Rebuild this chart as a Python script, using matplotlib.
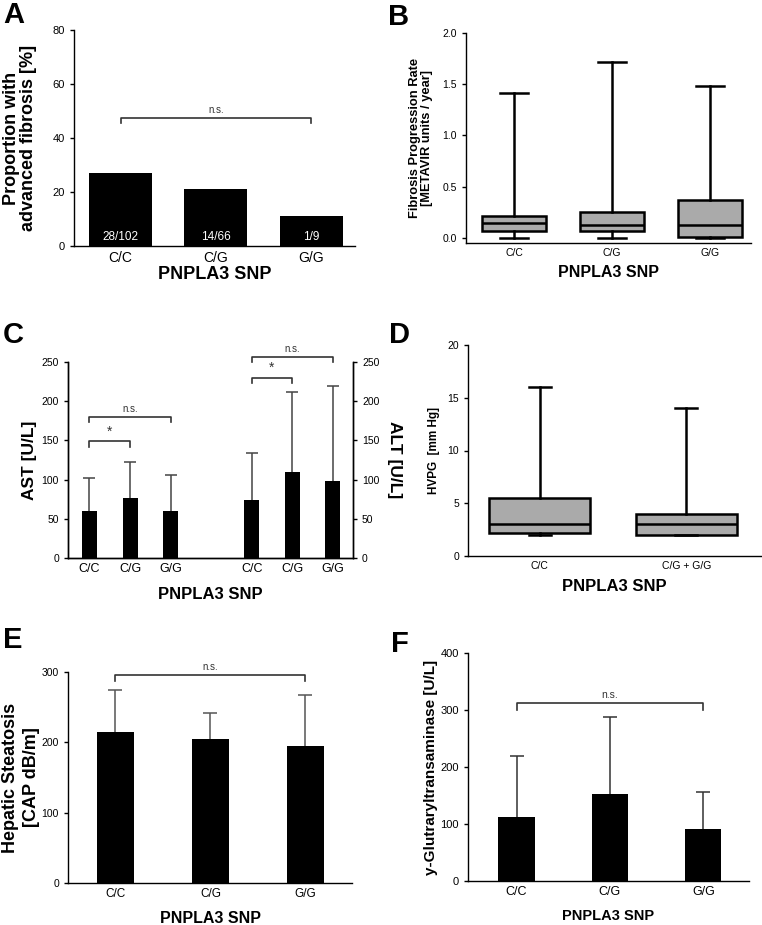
import numpy as np
import matplotlib
matplotlib.use("Agg")
import matplotlib.pyplot as plt

plt.rcParams['font.family'] = ['Liberation Sans', 'DejaVu Sans']
plt.rcParams['axes.linewidth'] = 1.0
plt.rcParams['xtick.major.width'] = 1.0
plt.rcParams['ytick.major.width'] = 1.0
plt.rcParams['xtick.major.size'] = 3
plt.rcParams['ytick.major.size'] = 3

# ---- data ----
genotypes = ['C/C', 'C/G', 'G/G']

# A: proportion with advanced fibrosis
fib_pct = [27, 21, 11]
fib_counts = ['28/102', '14/66', '1/9']

# B: fibrosis progression rate (min, q1, median, q3, max)
fpr_min = [0.0, 0.0, 0.0]
fpr_q1 = [0.07, 0.07, 0.01]
fpr_med = [0.15, 0.13, 0.13]
fpr_q3 = [0.21, 0.25, 0.37]
fpr_max = [1.41, 1.72, 1.48]

# C: AST / ALT mean + SD
ast_mean = [60, 76, 60]
ast_sd = [42, 47, 46]
alt_mean = [74, 110, 98]
alt_sd = [60, 102, 121]

# D: HVPG
hvpg_groups = ['C/C', 'C/G + G/G']
hvpg_min = [2.0, 2.0]
hvpg_q1 = [2.2, 2.0]
hvpg_med = [3.0, 3.0]
hvpg_q3 = [5.5, 4.0]
hvpg_max = [16.0, 14.0]

# E: CAP
cap_mean = [215, 205, 195]
cap_sd = [60, 37, 72]

# F: GGT
ggt_mean = [113, 153, 91]
ggt_sd = [107, 135, 66]

W, H = 762, 925
fig = plt.figure(figsize=(W / 100, H / 100), dpi=100)


def px_axes(l, t, r, b):
    return fig.add_axes([l / W, 1 - b / H, (r - l) / W, (b - t) / H])


def style(ax):
    ax.spines['top'].set_visible(False)
    ax.spines['right'].set_visible(False)


def up_err(ax, x, mean, sd, color, cap):
    # SD shown upward only: hide the lower cap
    eb = ax.errorbar(x, mean, yerr=[np.zeros(len(sd)), sd], fmt='none', ecolor=color,
                     elinewidth=1.1, capsize=cap, capthick=1.1, zorder=1)
    eb[1][0].set_visible(False)


def bracket(ax, x1, x2, y, drop, text, fs=7, clip=True):
    ax.plot([x1, x1, x2, x2], [y - drop, y, y, y - drop], color='#333333', lw=1.2,
            clip_on=clip)
    ax.text((x1 + x2) / 2, y + drop * 0.5, text, ha='center', va='bottom', fontsize=fs,
            color='#333333', clip_on=False)


def letter(x, y, s):
    fig.text(x / W, 1 - y / H, s, fontsize=21, fontweight='bold', va='top', ha='left')


# ======== A ========
axA = px_axes(74, 30, 355, 246)
style(axA)
xa = np.arange(3)
axA.bar(xa, fib_pct, width=0.66, color='black')
for i, c in enumerate(fib_counts):
    axA.text(xa[i], 1.2, c, color='white', ha='center', va='bottom', fontsize=8.5)
axA.set_xlim(-0.49, 2.46)
axA.set_ylim(0, 80)
axA.set_yticks([0, 20, 40, 60, 80])
axA.set_xticks(xa)
axA.set_xticklabels(genotypes, fontsize=10)
axA.tick_params(axis='y', labelsize=8)
axA.tick_params(axis='x', length=0)
bracket(axA, 0, 2, 47.5, 2, 'n.s.', fs=7)
axA.set_ylabel('Proportion with\nadvanced fibrosis [%]', fontsize=13, fontweight='bold',
               labelpad=11, linespacing=1.0)
axA.set_xlabel('PNPLA3 SNP', fontsize=13, fontweight='bold', labelpad=1)

# ======== B ========
axB = px_axes(466, 33, 751, 243)
style(axB)
statsB = []
for i in range(3):
    statsB.append(dict(whislo=fpr_min[i], q1=fpr_q1[i], med=fpr_med[i], q3=fpr_q3[i],
                       whishi=fpr_max[i], fliers=[]))
axB.bxp(statsB, positions=np.arange(3), widths=0.66, patch_artist=True, showfliers=False,
        capwidths=0.29,
        boxprops=dict(facecolor='#aaaaaa', edgecolor='black', linewidth=1.8),
        medianprops=dict(color='black', linewidth=1.8),
        whiskerprops=dict(color='black', linewidth=1.8),
        capprops=dict(color='black', linewidth=1.8))
axB.set_xlim(-0.49, 2.42)
axB.set_ylim(-0.05, 2.0)
axB.set_yticks([0.0, 0.5, 1.0, 1.5, 2.0])
axB.set_yticklabels(['0.0', '0.5', '1.0', '1.5', '2.0'])
axB.set_xticks(np.arange(3))
axB.set_xticklabels(genotypes)
axB.tick_params(labelsize=7.5)
axB.tick_params(axis='x', length=0)
axB.set_ylabel('Fibrosis Progression Rate\n[METAVIR units / year]', fontsize=9.3,
               fontweight='bold', labelpad=7, linespacing=1.0)
axB.set_xlabel('PNPLA3 SNP', fontsize=11.5, fontweight='bold', labelpad=5)

# ======== C ========
axC = px_axes(68, 362, 353, 558)
axC.spines['top'].set_visible(False)
pos_ast = np.array([0, 1, 2])
pos_alt = np.array([4, 5, 6])
axC.bar(pos_ast, ast_mean, width=0.37, color='black', zorder=2)
up_err(axC, pos_ast, ast_mean, ast_sd, '#444444', 4)
axC.bar(pos_alt, alt_mean, width=0.37, color='black', zorder=2)
up_err(axC, pos_alt, alt_mean, alt_sd, '#444444', 4)
axC.set_xlim(-0.53, 6.5)
axC.set_ylim(0, 250)
axC.set_yticks([0, 50, 100, 150, 200, 250])
axC.set_xticks([0, 1, 2, 3, 4, 5, 6])
axC.set_xticklabels(genotypes + [''] + genotypes, fontsize=9)
axC.tick_params(axis='y', labelsize=7.5, right=False)
axC.tick_params(axis='x', length=0)
axC.set_ylabel('AST [U/L]', fontsize=12.5, fontweight='bold', labelpad=3)
axC.set_xlabel('PNPLA3 SNP', fontsize=12, fontweight='bold', labelpad=9)
bracket(axC, 0, 1, 149, 7, '*', fs=10)
bracket(axC, 0, 2, 180, 7, 'n.s.', fs=7)
bracket(axC, 4, 5, 230, 7, '*', fs=10, clip=False)
bracket(axC, 4, 6, 257, 7, 'n.s.', fs=7, clip=False)
axC2 = axC.twinx()
axC2.spines['top'].set_visible(False)
axC2.set_ylim(0, 250)
axC2.set_yticks([0, 50, 100, 150, 200, 250])
axC2.tick_params(axis='y', labelsize=7.5)
axC2.set_ylabel('ALT [U/L]', fontsize=12.5, fontweight='bold', rotation=270, labelpad=16)

# ======== D ========
axD = px_axes(468, 345, 761, 556)
style(axD)
statsD = []
for i in range(2):
    statsD.append(dict(whislo=hvpg_min[i], q1=hvpg_q1[i], med=hvpg_med[i], q3=hvpg_q3[i],
                       whishi=hvpg_max[i], fliers=[]))
axD.bxp(statsD, positions=np.arange(2), widths=0.69, patch_artist=True, showfliers=False,
        capwidths=0.15,
        boxprops=dict(facecolor='#aaaaaa', edgecolor='black', linewidth=1.8),
        medianprops=dict(color='black', linewidth=1.8),
        whiskerprops=dict(color='black', linewidth=1.8),
        capprops=dict(color='black', linewidth=1.8))
axD.set_xlim(-0.49, 1.51)
axD.set_ylim(0, 20)
axD.set_yticks([0, 5, 10, 15, 20])
axD.set_xticks(np.arange(2))
axD.set_xticklabels(hvpg_groups)
axD.tick_params(labelsize=7.5)
axD.tick_params(axis='x', length=0)
axD.set_ylabel('HVPG  [mm Hg]', fontsize=8.5, fontweight='bold', labelpad=5)
axD.set_xlabel('PNPLA3 SNP', fontsize=12, fontweight='bold', labelpad=6)

# ======== E ========
axE = px_axes(68, 672, 352, 883)
style(axE)
xe = np.arange(3)
axE.bar(xe, cap_mean, width=0.39, color='black', zorder=2)
up_err(axE, xe, cap_mean, cap_sd, '#555555', 5)
axE.set_xlim(-0.5, 2.49)
axE.set_ylim(0, 300)
axE.set_yticks([0, 100, 200, 300])
axE.set_xticks(xe)
axE.set_xticklabels(genotypes, fontsize=8.5)
axE.tick_params(axis='y', labelsize=7.5)
axE.tick_params(axis='x', length=0)
bracket(axE, 0, 2, 296, 9, 'n.s.', fs=7, clip=False)
axE.set_ylabel('Hepatic Steatosis\n[CAP dB/m]', fontsize=13, fontweight='bold',
               linespacing=1.25)
axE.yaxis.set_label_coords(-0.1, 0.5)
axE.set_xlabel('PNPLA3 SNP', fontsize=11.5, fontweight='bold', labelpad=8)

# ======== F ========
axF = px_axes(468, 653, 749, 881)
style(axF)
xf = np.arange(3)
axF.bar(xf, ggt_mean, width=0.39, color='black', zorder=2)
up_err(axF, xf, ggt_mean, ggt_sd, '#333333', 5)
axF.set_xlim(-0.52, 2.49)
axF.set_ylim(0, 400)
axF.set_yticks([0, 100, 200, 300, 400])
axF.set_xticks(xf)
axF.set_xticklabels(genotypes, fontsize=9)
axF.tick_params(axis='y', labelsize=8)
axF.tick_params(axis='x', length=0)
bracket(axF, 0, 2, 312, 12, 'n.s.', fs=7.5)
axF.set_ylabel('y-Glutraryltransaminase [U/L]', fontsize=11, fontweight='bold', labelpad=2)
axF.set_xlabel('PNPLA3 SNP', fontsize=10.5, fontweight='bold', labelpad=8)

# panel letters
letter(3, 1, 'A')
letter(388, 3, 'B')
letter(3, 321, 'C')
letter(389, 321, 'D')
letter(3, 626, 'E')
letter(391, 630, 'F')

fig.savefig('out.png', dpi=100, facecolor='white')
